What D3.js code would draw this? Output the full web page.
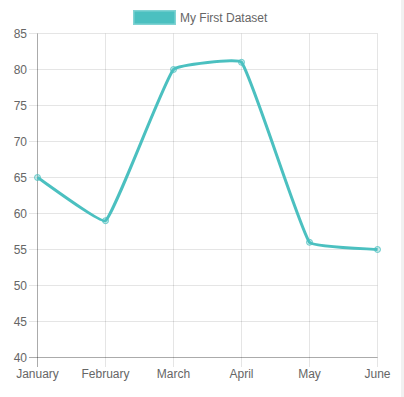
<!DOCTYPE html>
<html>
<head>
<meta charset="utf-8">
<script src="https://cdn.jsdelivr.net/npm/d3@7"></script>
<style>
  body { margin: 0; background: #fff; overflow: hidden; }
  svg text { font-family: "Liberation Sans", Arial, Helvetica, sans-serif; }
</style>
</head>
<body>
<div id="chart"></div>
<script>
var months = ["January", "February", "March", "April", "May", "June"];
var values = [65, 59, 80, 81, 56, 55];
var yTicks = [40, 45, 50, 55, 60, 65, 70, 75, 80, 85];
var seriesName = "My First Dataset";

function init() {
    var w = 404;
    var h = 397;
    var teal = "rgb(75, 192, 192)";

    var svg = d3.select("#chart")
        .append("svg")
        .attr("width", w)
        .attr("height", h);

    // grey strip on the right edge
    svg.append("rect")
        .attr("x", 401).attr("y", 0)
        .attr("width", 3).attr("height", h)
        .attr("fill", "#f1f1f1");

    var x = d3.scalePoint()
        .domain(months)
        .range([37.5, 377.5]);

    var y = d3.scaleLinear()
        .domain([40, 85])
        .range([357.5, 33.5]);

    // grid lines
    svg.append("g")
        .selectAll("line.h")
        .data(yTicks)
        .enter()
        .append("line")
        .attr("x1", 29).attr("x2", 377.5)
        .attr("y1", function(d) { return y(d); })
        .attr("y2", function(d) { return y(d); })
        .attr("stroke", "rgba(0,0,0,0.1)");

    svg.append("g")
        .selectAll("line.v")
        .data(months)
        .enter()
        .append("line")
        .attr("x1", function(d) { return x(d); })
        .attr("x2", function(d) { return x(d); })
        .attr("y1", 33.5).attr("y2", 367)
        .attr("stroke", "rgba(0,0,0,0.1)");

    // axis lines
    svg.append("line")
        .attr("x1", 37.5).attr("x2", 37.5)
        .attr("y1", 33.5).attr("y2", 367)
        .attr("stroke", "rgba(0,0,0,0.25)");
    svg.append("line")
        .attr("x1", 29).attr("x2", 377.5)
        .attr("y1", 357.5).attr("y2", 357.5)
        .attr("stroke", "rgba(0,0,0,0.25)");

    // tick labels
    svg.selectAll("text.ylab")
        .data(yTicks)
        .enter()
        .append("text")
        .attr("x", 27)
        .attr("y", function(d) { return y(d) + 4; })
        .attr("text-anchor", "end")
        .attr("font-size", 12)
        .attr("fill", "#666")
        .text(function(d) { return d; });

    svg.selectAll("text.xlab")
        .data(months)
        .enter()
        .append("text")
        .attr("x", function(d) { return x(d); })
        .attr("y", 378)
        .attr("text-anchor", "middle")
        .attr("font-size", 12)
        .attr("fill", "#666")
        .text(function(d) { return d; });

    // line, same spline as chart.js (tension 0.1)
    var pts = values.map(function(v, i) { return [x(months[i]), y(v)]; });
    var tension = 0.1;
    var cps = pts.map(function(p, i) {
        var prev = pts[Math.max(i - 1, 0)];
        var next = pts[Math.min(i + 1, pts.length - 1)];
        var d01 = Math.hypot(p[0] - prev[0], p[1] - prev[1]);
        var d12 = Math.hypot(next[0] - p[0], next[1] - p[1]);
        var s01 = d01 / (d01 + d12 || 1);
        var s12 = d12 / (d01 + d12 || 1);
        var fa = tension * s01, fb = tension * s12;
        return {
            prev: [p[0] - fa * (next[0] - prev[0]), p[1] - fa * (next[1] - prev[1])],
            next: [p[0] + fb * (next[0] - prev[0]), p[1] + fb * (next[1] - prev[1])]
        };
    });
    var path = d3.path();
    path.moveTo(pts[0][0], pts[0][1]);
    for (var i = 1; i < pts.length; i++) {
        path.bezierCurveTo(cps[i - 1].next[0], cps[i - 1].next[1],
            cps[i].prev[0], cps[i].prev[1], pts[i][0], pts[i][1]);
    }
    svg.append("path")
        .attr("d", path.toString())
        .attr("fill", "none")
        .attr("stroke", teal)
        .attr("stroke-width", 3);

    svg.selectAll("circle")
        .data(values)
        .enter()
        .append("circle")
        .attr("cx", function(d, i) { return x(months[i]); })
        .attr("cy", function(d) { return y(d); })
        .attr("r", 3)
        .attr("fill", "rgba(75,192,192,0.3)")
        .attr("stroke", "rgba(75,192,192,0.8)")
        .attr("stroke-width", 1);

    // legend
    svg.append("rect")
        .attr("x", 134.5).attr("y", 11.5)
        .attr("width", 40).attr("height", 12)
        .attr("fill", teal)
        .attr("stroke", "rgba(75,192,192,0.7)")
        .attr("stroke-width", 3);
    svg.append("text")
        .attr("x", 180)
        .attr("y", 22)
        .attr("font-size", 12)
        .attr("fill", "#666")
        .text(seriesName);
}
window.onload = init;
</script>
</body>
</html>
